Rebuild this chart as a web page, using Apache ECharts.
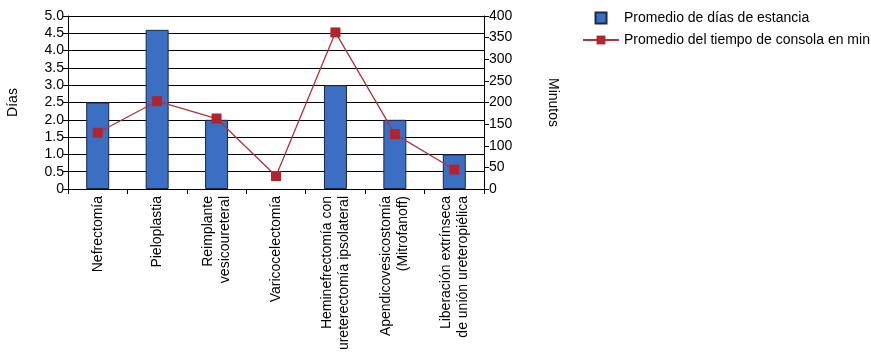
<!DOCTYPE html>
<html>
<head>
<meta charset="utf-8">
<script src="https://cdn.jsdelivr.net/npm/echarts@6/dist/echarts.min.js"></script>
<style>
  html, body { margin: 0; padding: 0; background: #fff; }
  #chart { width: 871px; height: 357px; }
</style>
</head>
<body>
<div id="chart"></div>
<script>
// categorias (procedimientos)
var categorias = ['Nefrectomía', 'Pieloplastia', 'Reimplante\nvesicoureteral', 'Varicocelectomía',
    'Heminefrectomía con\nureterectomía ipsolateral', 'Apendicovesicostomía\n(Mitrofanoff)',
    'Liberación extrínseca\nde unión ureteropiélica'];
// promedio de dias de estancia
var diasEstancia = [2.5, 4.6, 2.0, 0, 3.0, 2.0, 1.0];
// promedio del tiempo de consola en minutos
var minutosConsola = [130, 203, 163, 30, 362, 127, 45];

var fuente = '"Liberation Sans Narrow", "Liberation Sans", Arial, sans-serif';

var chart = echarts.init(document.getElementById('chart'));

// las barras en cero no se dibujan (sin borde)
var barras = diasEstancia.map(function (v) {
    return v === 0 ? { value: v, itemStyle: { borderWidth: 0, opacity: 0 } } : v;
});

var option = {
    animation: false,
    textStyle: { fontFamily: fuente, color: '#000' },
    legend: {
        orient: 'vertical',
        left: 577,
        top: 6,
        itemWidth: 36,
        itemHeight: 11,
        itemGap: 8,
        textStyle: { fontFamily: fuente, fontSize: 14, color: '#000' },
        data: [
            { name: 'Promedio de días de estancia', icon: 'path://M0,0L10,0L10,10L0,10Z' },
            { name: 'Promedio del tiempo de consola en min' }
        ]
    },
    grid: { left: 68, right: 387, top: 16, bottom: 168 },
    xAxis: {
        type: 'category',
        data: categorias,
        axisLine: { lineStyle: { color: '#000', width: 1 } },
        axisTick: { show: true, length: 5, alignWithLabel: false, lineStyle: { color: '#000' } },
        axisLabel: {
            interval: 0,
            rotate: 90,
            margin: 7,
            fontFamily: fuente,
            fontSize: 14,
            lineHeight: 17,
            color: '#000'
        }
    },
    yAxis: [
        {
            type: 'value',
            name: 'Días',
            nameLocation: 'middle',
            nameRotate: 90,
            nameGap: 48,
            nameTextStyle: { fontFamily: fuente, fontSize: 14, color: '#000' },
            min: 0, max: 5, interval: 0.5,
            axisLine: { show: true, lineStyle: { color: '#000' } },
            axisTick: { show: true, length: 5, lineStyle: { color: '#000' } },
            splitLine: { show: true, lineStyle: { color: '#000', width: 1 } },
            axisLabel: {
                fontFamily: fuente, fontSize: 14, color: '#000', margin: 4,
                formatter: function (v) { return v === 0 ? '0' : v.toFixed(1); }
            }
        },
        {
            type: 'value',
            name: 'Minutos',
            nameLocation: 'middle',
            nameRotate: -90,
            nameGap: 62,
            nameTextStyle: { fontFamily: fuente, fontSize: 14, color: '#000' },
            min: 0, max: 400, interval: 50,
            position: 'right',
            axisLine: { show: true, lineStyle: { color: '#000' } },
            axisTick: { show: true, length: 5, lineStyle: { color: '#000' } },
            splitLine: { show: false },
            axisLabel: { fontFamily: fuente, fontSize: 14, color: '#000', margin: 5 }
        }
    ],
    series: [
        {
            name: 'Promedio de días de estancia',
            type: 'bar',
            yAxisIndex: 0,
            barWidth: 23,
            data: barras,
            itemStyle: { color: '#3a6fc4', borderColor: '#1b2a44', borderWidth: 1 }
        },
        {
            name: 'Promedio del tiempo de consola en min',
            type: 'line',
            yAxisIndex: 1,
            data: minutosConsola,
            symbol: 'rect',
            symbolSize: 10,
            lineStyle: { color: '#b0323a', width: 1.3 },
            itemStyle: { color: '#b3232b' }
        }
    ]
};

chart.setOption(option);
</script>
</body>
</html>
